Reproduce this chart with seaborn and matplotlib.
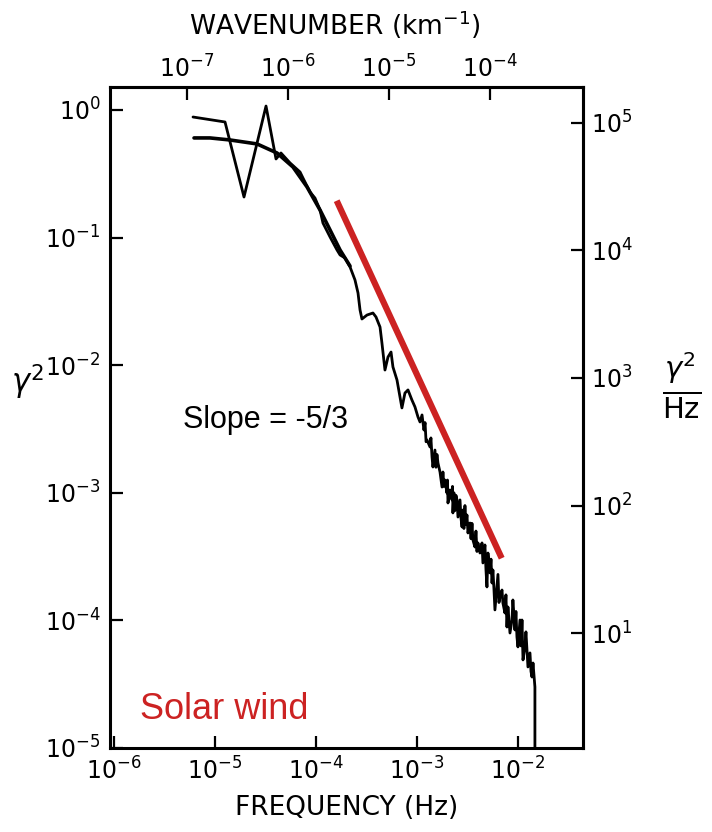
import numpy as np
import pandas as pd
import matplotlib
matplotlib.use("Agg")
import matplotlib.pyplot as plt
import matplotlib.ticker as mticker
import seaborn as sns

jag_log_f = [-5.218, -4.901, -4.713, -4.495, -4.396, -4.347, -4.257, -4.158, -4.129,
             -4.059, -4.010, -3.960, -3.931, -3.861, -3.792, -3.762, -3.713, -3.663,
             -3.614, -3.584, -3.564, -3.545, -3.495, -3.436, -3.406, -3.366, -3.347,
             -3.317, -3.287, -3.257, -3.238, -3.198, -3.168, -3.149, -3.119, -3.089,
             -3.050, -3.020, -2.990, -2.970, -2.950, -2.931, -2.920, -2.910, -2.901,
             -2.871, -2.862, -2.851, -2.842, -2.822, -2.812, -2.802, -2.792, -2.772,
             -2.752, -2.743, -2.733, -2.723, -2.703, -2.698, -2.693, -2.673, -2.653,
             -2.648, -2.644, -2.634, -2.624, -2.614, -2.604, -2.594, -2.574, -2.564,
             -2.554, -2.545, -2.535, -2.525, -2.515, -2.505, -2.495, -2.475, -2.465,
             -2.455, -2.446, -2.426, -2.416, -2.406, -2.396, -2.376, -2.356, -2.347,
             -2.327, -2.317, -2.307, -2.297, -2.277, -2.267, -2.257, -2.248, -2.238,
             -2.228, -2.208, -2.198, -2.188, -2.178, -2.158, -2.149, -2.129, -2.119,
             -2.109, -2.099, -2.079, -2.059, -2.050, -2.030, -2.020, -2.010, -2.000,
             -1.980, -1.970, -1.960, -1.950, -1.931, -1.921, -1.911, -1.901, -1.881,
             -1.871, -1.861, -1.851, -1.832, -1.832]
jag_log_p = [-0.055, -0.094, -0.682, 0.031, -0.384, -0.337, -0.415, -0.486, -0.533,
             -0.643, -0.690, -0.784, -0.886, -0.995, -1.097, -1.136, -1.160, -1.230,
             -1.332, -1.434, -1.567, -1.638, -1.607, -1.591, -1.622, -1.701, -1.826,
             -2.038, -1.936, -1.897, -2.014, -2.116, -2.249, -2.335, -2.218, -2.194,
             -2.273, -2.327, -2.406, -2.445, -2.390, -2.508, -2.450, -2.600, -2.586,
             -2.641, -2.570, -2.719, -2.798, -2.665, -2.800, -2.700, -2.767, -2.837,
             -2.955, -2.837, -2.950, -2.900, -3.002, -2.900, -3.080, -2.978, -3.056,
             -2.950, -3.158, -3.000, -3.140, -3.020, -3.056, -3.190, -3.056, -3.200,
             -3.268, -3.135, -3.280, -3.100, -3.250, -3.174, -3.315, -3.237, -3.360,
             -3.240, -3.370, -3.425, -3.300, -3.460, -3.393, -3.472, -3.393, -3.550,
             -3.409, -3.600, -3.738, -3.472, -3.628, -3.520, -3.707, -3.605, -3.750,
             -3.918, -3.738, -3.640, -3.860, -3.817, -3.762, -3.864, -3.942, -3.800,
             -4.052, -3.895, -4.099, -3.997, -3.840, -4.075, -3.930, -4.130, -4.208,
             -3.997, -4.200, -3.997, -4.310, -4.208, -4.090, -4.232, -4.365, -4.255,
             -4.400, -4.444, -4.334, -4.522, -5.300]

# smooth model curve
fit_log_f = [-5.208, -5.050, -4.851, -4.584, -4.386, -4.228, -4.089, -3.960, -3.861,
             -3.762, -3.663]
fit_log_p = [-0.219, -0.219, -0.235, -0.266, -0.337, -0.447, -0.603, -0.784, -0.940,
             -1.097, -1.223]

# red -5/3 reference line (end points)
slope_log_f = [-3.795, -2.161]
slope_log_p = [-0.711, -3.513]

right_ticks = [1e1, 1e2, 1e3, 1e4, 1e5]
top_ticks = [1e-7, 1e-6, 1e-5, 1e-4]
bottom_ticks = [1e-6, 1e-5, 1e-4, 1e-3, 1e-2]
left_ticks = [1e0, 1e-1, 1e-2, 1e-3, 1e-4, 1e-5]

PSD_FACTOR = 10 ** 5.1      # gamma^2 -> gamma^2/Hz
K_FACTOR = 10 ** -1.72      # Hz -> km^-1

sns.set_theme(style="white")
plt.rcParams['font.family'] = ['DejaVu Sans']
plt.rcParams['mathtext.fontset'] = 'dejavusans'
plt.rcParams['text.color'] = 'black'
plt.rcParams['xtick.color'] = 'black'
plt.rcParams['ytick.color'] = 'black'
plt.rcParams['axes.labelcolor'] = 'black'

jag = pd.DataFrame({'f': 10 ** np.array(jag_log_f), 'p': 10 ** np.array(jag_log_p)})
fit = pd.DataFrame({'f': 10 ** np.array(fit_log_f), 'p': 10 ** np.array(fit_log_p)})
slope = pd.DataFrame({'f': 10 ** np.array(slope_log_f), 'p': 10 ** np.array(slope_log_p)})

fig = plt.figure(figsize=(7.12, 8.32), dpi=100)
ax = fig.add_axes([0.1545, 0.101, 0.6643, 0.7944])

sns.lineplot(data=fit, x='f', y='p', ax=ax, color='black', lw=2.6,
             sort=False, estimator=None)
sns.lineplot(data=jag, x='f', y='p', ax=ax, color='black', lw=2.0,
             sort=False, estimator=None)
sns.lineplot(data=slope, x='f', y='p', ax=ax, color='#cc2222', lw=4.5,
             sort=False, estimator=None, solid_capstyle='butt')

ax.set_xscale('log')
ax.set_yscale('log')
ax.set_xlim(10 ** -6.04, 10 ** -1.356)
ax.set_ylim(1e-5, 10 ** 0.18)
ax.set_xlabel('')
ax.set_ylabel('')

ax.xaxis.set_major_locator(mticker.FixedLocator(bottom_ticks))
ax.yaxis.set_major_locator(mticker.FixedLocator(left_ticks))
ax.xaxis.set_minor_locator(mticker.NullLocator())
ax.yaxis.set_minor_locator(mticker.NullLocator())
ax.xaxis.set_major_formatter(mticker.LogFormatterMathtext())
ax.yaxis.set_major_formatter(mticker.LogFormatterMathtext())
ax.tick_params(direction='in', length=9, width=1.6, labelsize=17, pad=7,
               bottom=True, left=True, top=False, right=False)

for sp in ax.spines.values():
    sp.set_linewidth(2.2)
    sp.set_color('black')

secx = ax.secondary_xaxis('top', functions=(lambda f: f * K_FACTOR,
                                            lambda k: k / K_FACTOR))
secx.xaxis.set_major_locator(mticker.FixedLocator(top_ticks))
secx.xaxis.set_minor_locator(mticker.NullLocator())
secx.xaxis.set_major_formatter(mticker.LogFormatterMathtext())
secx.tick_params(direction='in', length=9, width=1.6, labelsize=17, pad=3)
secx.spines['top'].set_linewidth(2.2)

secy = ax.secondary_yaxis('right', functions=(lambda p: p * PSD_FACTOR,
                                              lambda q: q / PSD_FACTOR))
secy.yaxis.set_major_locator(mticker.FixedLocator(right_ticks))
secy.yaxis.set_minor_locator(mticker.NullLocator())
secy.yaxis.set_major_formatter(mticker.LogFormatterMathtext())
secy.tick_params(direction='in', length=9, width=1.6, labelsize=17, pad=6)
secy.spines['right'].set_linewidth(2.2)

ax.text(0.154, 0.496, 'Slope = -5/3', transform=ax.transAxes, ha='left',
        va='center', fontsize=22, family='Liberation Sans', color='black')
ax.text(0.063, 0.0575, 'Solar wind', transform=ax.transAxes, ha='left',
        va='center', fontsize=26, family='Liberation Sans', color='#cc2222')

fig.text(0.47, 0.97, 'WAVENUMBER (km$^{-1}$)', ha='center', va='center', fontsize=19)
fig.text(0.487, 0.029, 'FREQUENCY (Hz)', ha='center', va='center', fontsize=19)
fig.text(0.038, 0.54, r'$\gamma^2$', ha='center', va='center', fontsize=22)
fig.text(0.958, 0.537, r'$\frac{\gamma^2}{\mathrm{Hz}}$', ha='center', va='center',
         fontsize=30)

fig.savefig('out.png', dpi=100)
